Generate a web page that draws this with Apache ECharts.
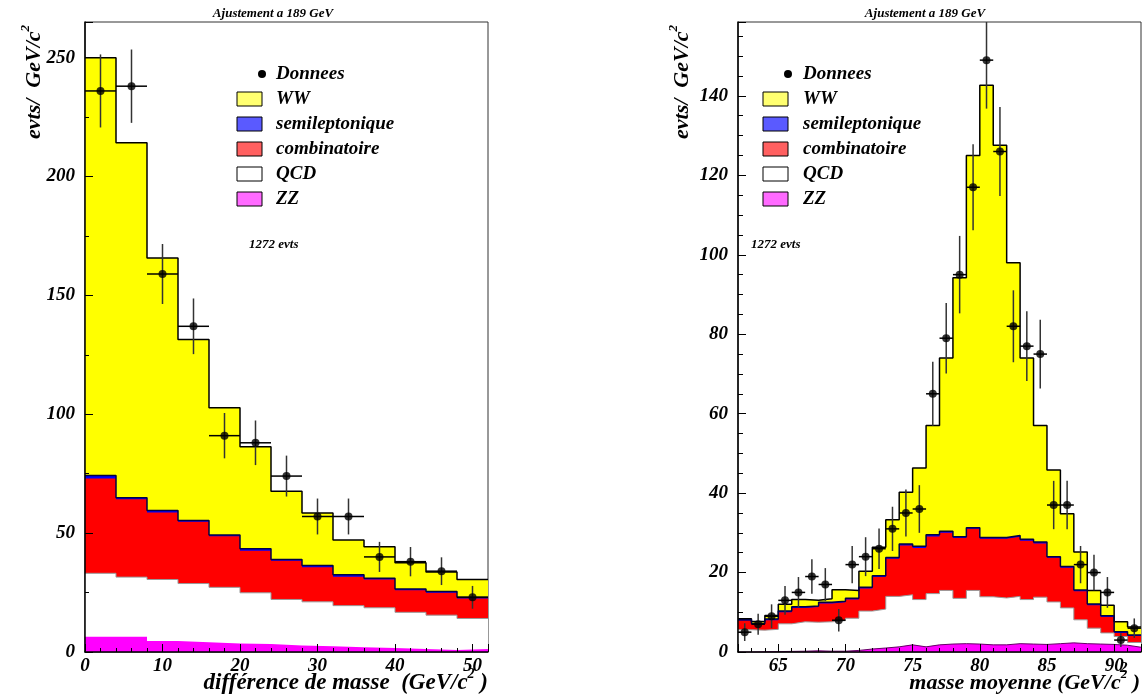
<!DOCTYPE html>
<html>
<head>
<meta charset="utf-8">
<script src="https://cdn.jsdelivr.net/npm/echarts@6/dist/echarts.min.js"></script>
<style>
  html, body { margin: 0; padding: 0; background: #fff; }
  #main { width: 1142px; height: 696px; }
</style>
</head>
<body>
<div id="main"></div>
<script>
// bins (low edges) and stacked layer tops
var leftBins = [0, 4, 8, 12, 16, 20, 24, 28, 32, 36, 40, 44, 48];
var leftBinWidth = 4;
var leftData = [236, 238, 159, 137, 91, 88, 74, 57, 57, 40, 38, 34, 23];
var leftWW   = [250, 214.2, 165.7, 131.5, 102.7, 86.3, 67.6, 58.5, 47.1, 44.3, 37.5, 33.7, 30.5];
var leftSemi = [74.2, 64.9, 59.5, 55.3, 49.2, 43.4, 38.9, 36.4, 32.5, 31.0, 26.5, 25.4, 23.0];
var leftComb = [73.0, 64.3, 58.7, 54.8, 48.7, 42.6, 38.4, 35.6, 31.7, 30.5, 26.0, 24.9, 22.5];
var leftQCD  = [33.1, 31.5, 30.5, 28.8, 27.2, 24.9, 22.1, 21.1, 19.5, 18.6, 16.7, 15.5, 14.1];
var leftZZ   = [6.4, 6.4, 4.6, 4.1, 3.6, 3.4, 2.7, 2.4, 2.0, 1.7, 1.3, 0.8, 1.3];

var rightBins = [62, 63, 64, 65, 66, 67, 68, 69, 70, 71, 72, 73, 74, 75, 76,
                 77, 78, 79, 80, 81, 82, 83, 84, 85, 86, 87, 88, 89, 90, 91];
var rightBinWidth = 1;
var rightData = [5, 7, 9, 13, 15, 19, 17, 8, 22, 24, 26, 31, 35, 36, 65,
                 79, 95, 117, 149, 126, 82, 77, 75, 37, 37, 22, 20, 15, 3, 6];
var rightWW   = [8.4, 7.7, 9.2, 12.0, 13.2, 13.0, 13.4, 15.7, 15.5, 20.3, 26.4, 33.3, 40.2, 46.3, 57.0,
                 74.0, 94.2, 125.0, 142.7, 127.6, 98.0, 74.0, 57.0, 45.8, 34.8, 25.2, 15.5, 11.8, 7.6, 6.3];
var rightSemi = [8.1, 7.2, 8.3, 10.3, 11.4, 11.6, 12.5, 12.8, 13.5, 16.3, 19.2, 23.8, 27.2, 26.6, 29.5,
                 30.4, 29.0, 31.3, 28.8, 28.8, 29.3, 28.4, 27.7, 24.0, 21.5, 15.6, 12.1, 9.1, 5.1, 4.3];
var rightComb = [7.9, 7.0, 8.0, 10.0, 11.1, 11.3, 12.2, 12.5, 13.2, 16.0, 18.9, 23.5, 26.8, 26.2, 29.1,
                 30.0, 28.7, 31.0, 28.5, 28.5, 29.0, 28.0, 27.3, 23.7, 21.2, 15.3, 11.8, 8.8, 4.8, 4.0];
var rightQCD  = [5.6, 5.5, 5.7, 7.1, 7.6, 7.5, 7.6, 7.9, 8.5, 10.3, 10.8, 14.0, 14.4, 13.2, 14.7,
                 15.5, 13.5, 15.5, 13.9, 13.6, 14.0, 13.2, 13.8, 12.6, 11.1, 8.1, 6.0, 4.8, 3.9, 2.4];
var rightZZ   = [0.0, 0.05, 0.1, 0.15, 0.2, 0.3, 0.2, 0.2, 0.4, 0.75, 1.0, 1.3, 1.8, 1.3, 1.8,
                 2.0, 2.1, 2.0, 1.8, 1.8, 2.1, 2.0, 1.9, 2.1, 2.3, 2.1, 2.0, 1.9, 1.7, 1.2];

var legendNames = ['Donnees', 'WW', 'semileptonique', 'combinatoire', 'QCD', 'ZZ'];
var FONT = '"Liberation Serif", "DejaVu Serif", serif';

var myChart = echarts.init(document.getElementById('main'));

// step line through bin edges, last value repeated at right edge
function steps(bins, w, vals) {
  var d = bins.map(function (b, i) { return [b, vals[i]]; });
  d.push([bins[bins.length - 1] + w, vals[vals.length - 1]]);
  return d;
}

function histo(g, bins, w, vals, fill, line, lw) {
  return {
    type: 'line', step: 'end', xAxisIndex: g, yAxisIndex: g,
    data: steps(bins, w, vals), showSymbol: false, symbol: 'none',
    lineStyle: { color: line, width: lw }, areaStyle: { color: fill, opacity: 1 },
    silent: true, z: 2
  };
}

function errBars(g, bins, w, counts) {
  return {
    type: 'custom', xAxisIndex: g, yAxisIndex: g, z: 5, silent: true,
    data: bins.map(function (b, i) { return [b + w / 2, counts[i], w / 2]; }),
    renderItem: function (params, api) {
      var x = api.value(0), y = api.value(1), hw = api.value(2), e = Math.sqrt(y);
      var p = api.coord([x, y]);
      var top = api.coord([x, y + e]), bot = api.coord([x, y - e]);
      var l = api.coord([x - hw, y]), r = api.coord([x + hw, y]);
      var cs = params.coordSys;
      var t = Math.max(top[1], cs.y);
      return {
        type: 'group', children: [
          { type: 'line', shape: { x1: p[0], y1: t, x2: p[0], y2: bot[1] }, style: { stroke: '#333', lineWidth: 1.5 } },
          { type: 'line', shape: { x1: l[0], y1: p[1], x2: r[0], y2: p[1] }, style: { stroke: '#000', lineWidth: 1.5 } }
        ]
      };
    }
  };
}

function dots(g, bins, w, counts) {
  return {
    type: 'scatter', xAxisIndex: g, yAxisIndex: g, z: 6, silent: true,
    symbol: 'circle', symbolSize: 8, itemStyle: { color: '#000' },
    data: bins.map(function (b, i) { return [b + w / 2, counts[i]]; })
  };
}

var labelStyle = { fontFamily: FONT, fontWeight: 'bold', fontStyle: 'italic', fontSize: 19, color: '#000' };

function xAx(g, opt) {
  return Object.assign({
    type: 'value', gridIndex: g, z: 10,
    axisLine: { show: true, onZero: false, lineStyle: { color: '#000', width: 1.5 } },
    axisTick: { inside: true, length: 8, lineStyle: { color: '#000' } },
    minorTick: { show: true, splitNumber: 5, length: 4, lineStyle: { color: '#000' } },
    splitLine: { show: false },
    axisLabel: Object.assign({ margin: 5, showMaxLabel: false }, labelStyle)
  }, opt);
}
function yAx(g, opt) {
  return Object.assign({
    type: 'value', gridIndex: g, z: 10, min: 0,
    axisLine: { show: true, onZero: false, lineStyle: { color: '#000', width: 1.5 } },
    axisTick: { inside: true, length: 8, lineStyle: { color: '#000' } },
    minorTick: { show: true, length: 4, lineStyle: { color: '#000' } },
    splitLine: { show: false },
    axisLabel: Object.assign({ margin: 10, showMaxLabel: false }, labelStyle)
  }, opt);
}

function txt(x, y, text, size, opt) {
  return Object.assign({
    type: 'text', x: x, y: y, silent: true,
    style: Object.assign({
      text: text, fill: '#000', align: 'left', verticalAlign: 'middle',
      font: 'italic bold ' + size + 'px ' + FONT
    }, opt && opt.style)
  }, opt && opt.el);
}

function richTxt(x, y, text, size, align, rot) {
  return {
    type: 'text', x: x, y: y, rotation: rot || 0, silent: true,
    style: {
      text: text, fill: '#000', align: align, verticalAlign: 'middle',
      font: 'italic bold ' + size + 'px ' + FONT,
      rich: {
        n: { fontFamily: FONT, fontStyle: 'italic', fontWeight: 'bold', fontSize: size, lineHeight: size + 8, verticalAlign: 'middle' },
        s: { fontFamily: FONT, fontStyle: 'italic', fontWeight: 'bold', fontSize: Math.round(size * 0.6), verticalAlign: 'top', lineHeight: size + 8 }
      }
    }
  };
}

var boxColors = ['#ffff70', '#5a5aff', '#ff6060', '#ffffff', '#ff6aff'];

function legend(boxX, textX, dotX) {
  var els = [];
  var y0 = 74, gap = 25;
  els.push({ type: 'circle', silent: true, shape: { cx: dotX, cy: y0, r: 4 }, style: { fill: '#000' } });
  legendNames.forEach(function (n, i) {
    var cy = y0 + i * gap;
    if (i > 0) {
      els.push({ type: 'rect', silent: true, shape: { x: boxX, y: cy - 7, width: 25, height: 14 },
        style: { fill: boxColors[i - 1], stroke: '#000', lineWidth: 1 } });
    }
    els.push(txt(textX, cy, n, 19));
  });
  return els;
}

var graphics = [
  txt(273, 14, 'Ajustement a 189 GeV', 13, { style: { align: 'center' } }),
  txt(925, 14, 'Ajustement a 189 GeV', 13, { style: { align: 'center' } }),
  richTxt(34, 82, '{n|evts/  GeV/c}{s|2}', 22, 'center', Math.PI / 2),
  richTxt(682, 82, '{n|evts/  GeV/c}{s|2}', 22, 'center', Math.PI / 2),
  richTxt(488, 683, '{n|différence de masse  (GeV/c}{s|2}{n| )}', 23, 'right'),
  richTxt(1140, 683, '{n|masse moyenne (GeV/c}{s|2}{n| )}', 22, 'right'),
  txt(1120, 668, '2', 15),
  txt(249, 245, '1272 evts', 13),
  txt(751, 245, '1272 evts', 13)
].concat(legend(237, 276, 262), legend(763, 803, 788));

var option = {
  animation: false,
  backgroundColor: '#fff',
  grid: [
    { left: 85, top: 22, width: 403, bottom: 44, show: true, borderColor: '#333', borderWidth: 1, outerBoundsMode: 'none' },
    { left: 738, top: 22, width: 403, bottom: 44, show: true, borderColor: '#333', borderWidth: 1, outerBoundsMode: 'none' }
  ],
  xAxis: [
    xAx(0, { min: 0, max: 52, interval: 10 }),
    xAx(1, { min: 62, max: 92, splitNumber: 6, axisLabel: Object.assign({ margin: 5, showMinLabel: false, showMaxLabel: false }, labelStyle) })
  ],
  yAxis: [
    yAx(0, { max: 265, interval: 50, minorTick: { show: true, splitNumber: 2, length: 4, lineStyle: { color: '#000' } } }),
    yAx(1, { max: 158.6, interval: 20, minorTick: { show: true, splitNumber: 4, length: 5, lineStyle: { color: '#000' } } })
  ],
  graphic: graphics,
  series: [
    histo(0, leftBins, leftBinWidth, leftWW, '#ffff00', '#000', 1.5),
    histo(0, leftBins, leftBinWidth, leftSemi, '#0000ff', '#000044', 1.5),
    histo(0, leftBins, leftBinWidth, leftComb, '#ff0000', '#ff0000', 0),
    histo(0, leftBins, leftBinWidth, leftQCD, '#ffffff', '#999999', 1),
    histo(0, leftBins, leftBinWidth, leftZZ, '#ff00ff', '#ff00ff', 0),
    errBars(0, leftBins, leftBinWidth, leftData),
    dots(0, leftBins, leftBinWidth, leftData),

    histo(1, rightBins, rightBinWidth, rightWW, '#ffff00', '#000', 1.5),
    histo(1, rightBins, rightBinWidth, rightSemi, '#0000ff', '#000044', 1.5),
    histo(1, rightBins, rightBinWidth, rightComb, '#ff0000', '#ff0000', 0),
    histo(1, rightBins, rightBinWidth, rightQCD, '#ffffff', '#999999', 1),
    histo(1, rightBins, rightBinWidth, rightZZ, '#ff00ff', '#660066', 1),
    errBars(1, rightBins, rightBinWidth, rightData),
    dots(1, rightBins, rightBinWidth, rightData)
  ]
};

myChart.setOption(option);
</script>
</body>
</html>
